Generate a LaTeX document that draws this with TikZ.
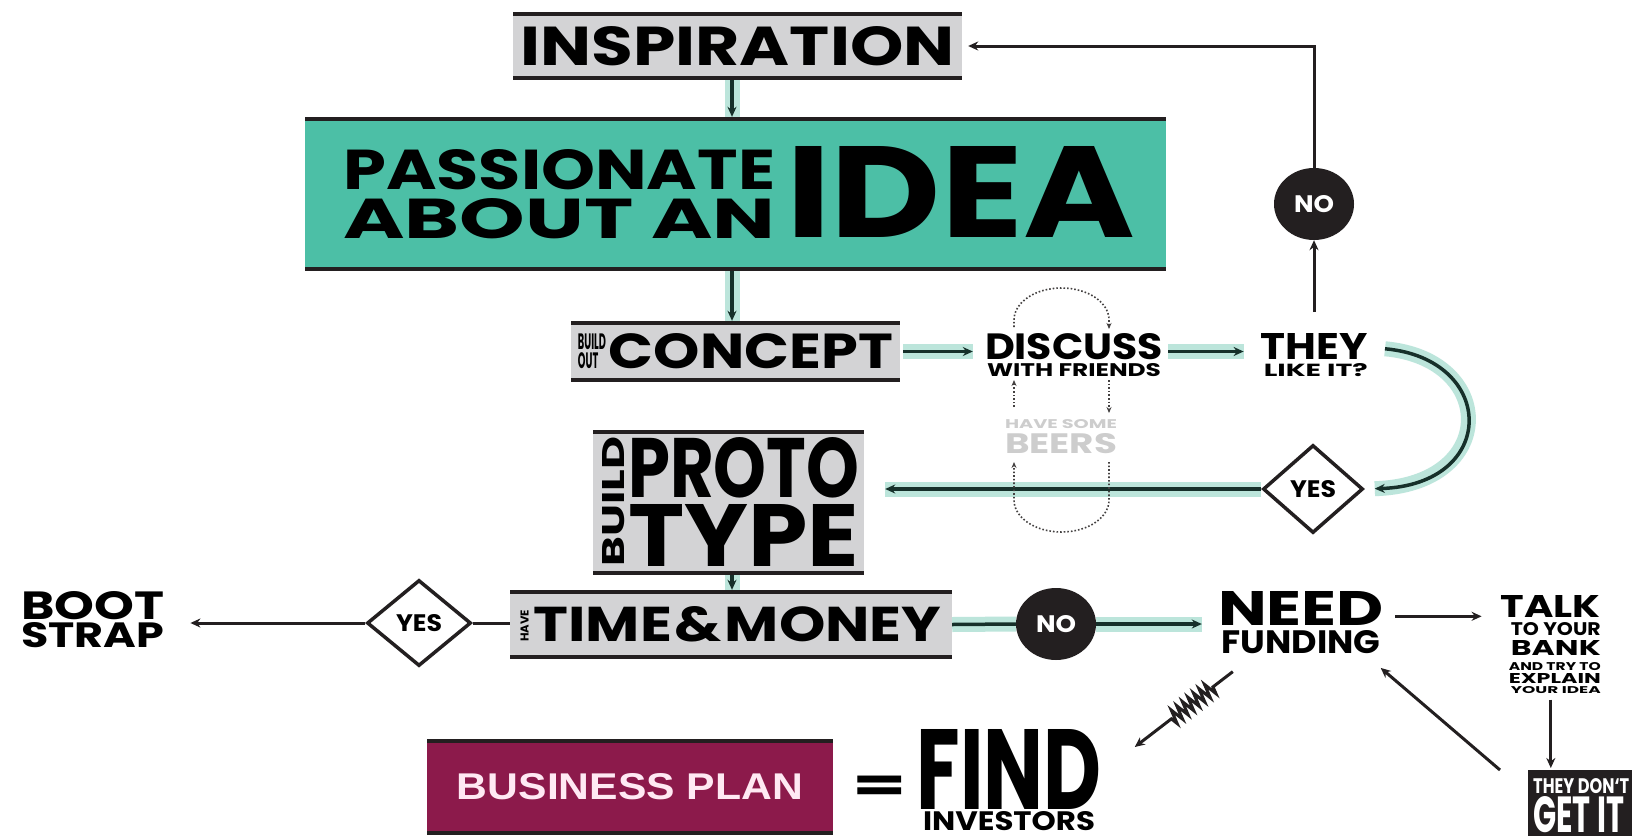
\documentclass[tikz,border=0pt]{standalone}
\usepackage{fontspec}
\setmainfont{Poppins}
\newfontfamily\planfont{Liberation Sans}
\usetikzlibrary{arrows.meta, shapes.geometric, decorations.pathmorphing}
\definecolor{ink}{HTML}{231F20}
\definecolor{flowink}{HTML}{16302A}
\definecolor{glow}{HTML}{BCE5DB}
\definecolor{teal}{HTML}{4CBFA6}
\definecolor{boxgray}{HTML}{D3D3D5}
\definecolor{beergray}{HTML}{CDCDCD}
\definecolor{maroon}{HTML}{8C1A4B}
\definecolor{pinkwhite}{HTML}{FFE9F3}
\newcommand{\fit}[3]{\resizebox{#1pt}{#2pt}{\fontsize{20}{20}\selectfont\bfseries #3}}

\begin{document}
\begin{tikzpicture}[x=1pt, y=-1pt, >={Stealth[length=10pt,width=9pt]},
   every node/.style={inner sep=0pt},
   lines/.style={font=\fontsize{1}{1}\selectfont},
   barbox/.style={fill=#1, path picture={
      \fill[ink] (path picture bounding box.north west) rectangle ([yshift=-4pt]path picture bounding box.north east);
      \fill[ink] (path picture bounding box.south west) rectangle ([yshift=4pt]path picture bounding box.south east);}},
   barbox/.default=boxgray,
   choice/.style={diamond, draw=ink, line width=3.5pt, fill=white, aspect=1.1, minimum width=100, minimum height=88},
   nobubble/.style={ellipse, fill=ink, text=white, minimum width=80, minimum height=72},
   flow/.style={draw=flowink, line width=3.5pt, ->, preaction={draw=glow, line width=15pt, -}},
   link/.style={draw=ink, line width=3pt, ->},
   dots/.style={draw=ink!85, line width=1.6pt, dotted, -{Stealth[length=6pt,width=5pt]}}]

   \useasboundingbox[fill=white] (0,0) rectangle (1632,835);
   \coordinate (spine) at (732,0);

   % boxes down the middle
   \node[barbox, minimum width=449, minimum height=68] (insp) at (737.5,46) {\fit{434}{39}{INSPIRATION}};
   \node[barbox=teal, minimum width=861, minimum height=154] (idea) at (735.5,194) {};
   \node[lines, align=left, anchor=north west] (passion) at (343,149)
      {\fit{432}{40}{PASSIONATE}\\[8pt]\fit{432}{40}{ABOUT AN}};
   \node[anchor=north west] (ideaword) at (786,146) {\fit{349}{91}{IDEA}};
   \node[barbox, minimum width=329, minimum height=61] (concept) at (735.5,351.5)
      {\fit{28}{35}{\shortstack[l]{BUILD\\OUT}}\hspace{3pt}\fit{284}{35}{CONCEPT}};
   \node[barbox, minimum width=271, minimum height=145] (proto) at (728.5,502.5) {};
   \node[anchor=south west] (build) at (602,567) {\rotatebox{90}{\fit{130}{22}{BUILD}}};
   \node[lines, align=left, anchor=north west] (protoword) at (628,437)
      {\fit{231}{60}{PROTO}\\[6pt]\fit{231}{62}{TYPE}};
   \node[barbox, minimum width=442, minimum height=69] (time) at (731,624.5)
      {\rotatebox{90}{\fit{32}{8}{HAVE}}\hspace{5pt}\fit{408}{35}{TIME\kern1pt\&\kern1pt MONEY}};

   % the friends loop
   \node[lines, align=center, anchor=north] (discuss) at (1074,333)
      {\fit{178}{26}{DISCUSS}\\[3pt]\fit{174}{13}{WITH FRIENDS}};
   \node[lines, align=right, anchor=north east] (they) at (1368,333)
      {\fit{107}{26}{THEY}\\[3pt]\fit{104}{13}{LIKE IT?}};
   \node[lines, align=center, anchor=north, text=beergray] (beers) at (1061,419)
      {\fit{112}{9}{HAVE SOME}\\[4pt]\fit{112}{20}{BEERS}};
   \node[nobubble] (no1) at (1314,204) {\fit{40}{17}{NO}};
   \node[choice] (yes1) at (1313,489) {\fit{46}{17}{YES}};

   % bottom row
   \node[choice, minimum width=104, minimum height=86] (yes2) at (419,623) {\fit{46}{17}{YES}};
   \node[lines, align=left, anchor=north west] (boot) at (21,591)
      {\fit{143}{28}{BOOT}\\[2pt]\fit{143}{25}{STRAP}};
   \node[nobubble] (no2) at (1056,624) {\fit{40}{17}{NO}};
   \node[lines, align=center, anchor=north] (need) at (1301,591)
      {\fit{166}{34}{NEED}\\[4pt]\fit{159}{23}{FUNDING}};
   \node[lines, align=right, anchor=north east] (talk) at (1601,595)
      {\fit{100}{22}{TALK}\\[4pt]\fit{90}{13}{TO YOUR}\\[4pt]\fit{90}{15}{BANK}\\[6pt]
       \fit{92}{8}{AND TRY TO}\\[2pt]\fit{92}{10}{EXPLAIN}\\[2pt]\fit{90}{7}{YOUR IDEA}};
   \node[fill=ink, minimum width=120, minimum height=70, anchor=north west] (dont) at (1528,770) {};
   \node[lines, align=left, anchor=north west, text=white] (donttext) at (1533,778)
      {\fit{96}{15}{THEY DON`T}\\[2pt]\fit{91}{36}{GET IT}};
   \node[lines, align=center, anchor=north] (find) at (1009,729)
      {\fit{185}{80}{FIND}\\[1pt]\fit{172}{19}{INVESTORS}};
   \node (eq) at (880,789) {\scalebox{1.7}[1]{\fontsize{46}{46}\selectfont\bfseries =}};
   \node[barbox=maroon, minimum width=406, minimum height=96, text=pinkwhite] (plan) at (630,787)
      {\fit{346}{26}{\planfont BUSINESS PLAN}};

   % main flow
   \draw[flow] (insp.south -| spine) -- (idea.north -| spine);
   \draw[flow] (idea.south -| spine) -- (concept.north -| spine);
   \draw[flow, shorten <=3pt, shorten >=12pt] (concept.east) -- (concept.east -| discuss.west);
   \draw[flow, shorten <=5pt, shorten >=17pt] (discuss.east |- concept.east) -- (they.west |- concept.east);
   \draw[flow, shorten >=10pt] ([shift={(17,-6)}]they.east) .. controls +(112,10) and +(134,-4) .. (yes1.east);
   \draw[flow, shorten >=21pt] (yes1.west) -- (proto.east |- yes1.west);
   \draw[flow] (proto.south -| spine) -- (time.north -| spine);
   \draw[flow, -] (time.east) -- (no2.west);
   \draw[flow, shorten >=16pt] (no2.east) -- (need.west |- no2.east);

   % other links
   \draw[link, shorten <=21pt] (they.north -| no1) -- (no1.south);
   \draw[link, -] (no1.north) |- ([xshift=60pt]insp.east);
   \draw[link, shorten >=6pt] ([xshift=60pt]insp.east) -- (insp.east);
   \draw[link, -] (time.west |- yes2) -- (yes2.east);
   \draw[link, shorten >=26pt] (yes2.west) -- (boot.east |- yes2.west);
   \draw[link, shorten <=11pt, shorten >=19pt] ([yshift=6pt]need.east) -- ([yshift=6pt]need.east -| talk.west);
   \draw[link, shorten <=6pt, shorten >=2pt] (talk.south) -- (talk.south |- dont.north);
   \draw[link, shorten >=2pt] ([xshift=-28pt]dont.north west) -- ([shift={(-5,13)}]need.south east);
   \draw[link, decorate, decoration={zigzag, amplitude=7pt, segment length=7pt, pre length=25pt, post length=45pt}]
      ([shift={(15,18)}]need.south west) -- ([shift={(33,18)}]find.north east);

   % dotted beer loop
   \draw[dots] (1014,327) -- (1014,320) arc[start angle=180, end angle=360, x radius=47.5, y radius=32] -- (1109,329);
   \draw[dots] (1109,380) -- (1109,413);
   \draw[dots] (1109,462) -- (1109,500) arc[start angle=0, end angle=180, x radius=47.5, y radius=32] -- (1014,462);
   \draw[dots] (1014,407) -- (1014,380);
\end{tikzpicture}
\end{document}
